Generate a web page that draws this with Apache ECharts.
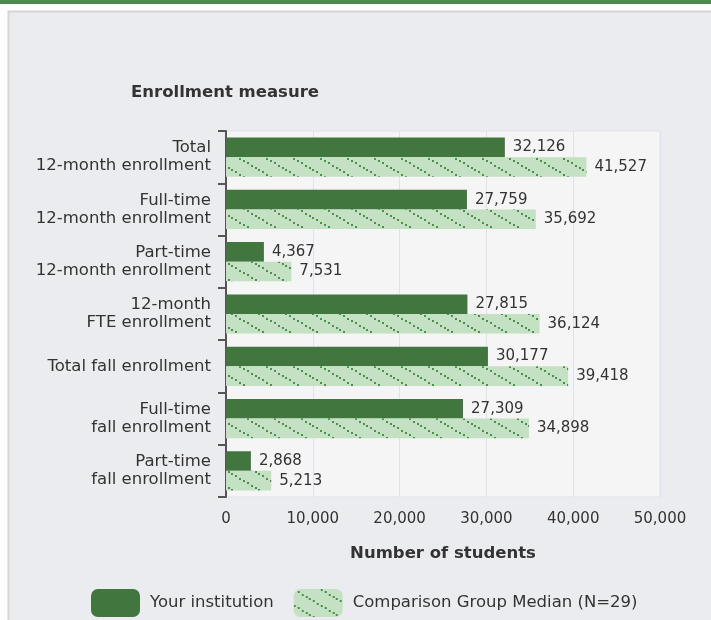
<!DOCTYPE html>
<html><head><meta charset="utf-8">
<script src="https://cdn.jsdelivr.net/npm/echarts@6/dist/echarts.min.js"></script>
<style>html,body{margin:0;padding:0;background:#fff}#c{width:711px;height:620px}</style>
</head><body><div id="c"></div>
<script>
var categories = ["Total\n12-month enrollment","Full-time\n12-month enrollment","Part-time\n12-month enrollment","12-month\nFTE enrollment","Total fall enrollment","Full-time\nfall enrollment","Part-time\nfall enrollment"];
var yourInstitution = [32126, 27759, 4367, 27815, 30177, 27309, 2868];
var comparisonMedian = [41527, 35692, 7531, 36124, 39418, 34898, 5213];
var xTicks = [0, 10000, 20000, 30000, 40000, 50000];

function makePattern(){
  var w = 27, h = 16;
  var c = document.createElement('canvas');
  c.width = w; c.height = h;
  var g = c.getContext('2d');
  g.fillStyle = '#c4e2c3'; g.fillRect(0,0,w,h);
  g.fillStyle = '#4f8f4e';
  for (var i = 0; i < 7; i++) {
    var x = i * w / 7, y = x * h / w;
    g.fillRect(Math.round(x), Math.round(y), 2, 2);
  }
  return c;
}
var pat = {image: makePattern(), repeat: 'repeat'};
var fmt = function(v){ return v.toLocaleString('en-US'); };
var font = '"DejaVu Sans", Verdana, sans-serif';

var chart = echarts.init(document.getElementById('c'), null, {renderer:'canvas'});
chart.setOption({
  backgroundColor: '#ffffff',
  animation: false,
  textStyle: {fontFamily: font},
  graphic: [
    {type:'rect', shape:{x:0,y:0,width:711,height:4}, style:{fill:'#4b8a4b'}, z:-10},
    {type:'rect', shape:{x:8.5,y:11.5,width:710,height:620}, style:{fill:'#ebecef', stroke:'#d5d5d5', lineWidth:2}, z:-10},
    {type:'text', left:131, top:84, style:{text:'Enrollment measure', fontSize:16.5, fontWeight:'bold', fill:'#333', fontFamily:font}}
  ],
  grid: {left:226, right:51, top:131, bottom:123, show:true, backgroundColor:'#f5f5f5', borderColor:'#dfe3ea', borderWidth:1},
  legend: {
    left: 86, top: 584, itemWidth: 49, itemHeight: 28, itemGap: 20, icon: 'roundRect',
    textStyle: {fontSize: 16.5, color:'#333', fontFamily:font, padding:[0,0,0,5]},
    data: ['Your institution', 'Comparison Group Median (N=29)']
  },
  xAxis: {
    type:'value', min: xTicks[0], max: xTicks[xTicks.length-1], interval: 10000,
    name: 'Number of students', nameLocation:'middle', nameGap: 48,
    nameTextStyle: {fontSize:16.5, fontWeight:'bold', color:'#333', fontFamily:font},
    axisLine: {show:false},
    axisTick: {show:false},
    axisLabel: {fontSize:15, color:'#333', margin:15, formatter: fmt},
    splitLine: {show:true, lineStyle:{color:'#dde3ee', width:1}}
  },
  yAxis: {
    type:'category', data: categories, inverse: true,
    axisLine: {show:true, lineStyle:{color:'#555', width:2}},
    axisTick: {show:true, length:8, lineStyle:{color:'#555', width:2}},
    axisLabel: {fontSize:16.5, color:'#333', margin:15, lineHeight:18, align:'right'}
  },
  series: [
    {name:'Your institution', type:'bar', data: yourInstitution, barGap:'0%', barCategoryGap:'25%',
     itemStyle:{color:'#41763f'},
     label:{show:true, position:'right', distance:8, fontSize:15, color:'#333', formatter: function(p){return fmt(p.value);}}},
    {name:'Comparison Group Median (N=29)', type:'bar', data: comparisonMedian,
     itemStyle:{color: pat},
     label:{show:true, position:'right', distance:8, fontSize:15, color:'#333', formatter: function(p){return fmt(p.value);}}}
  ]
});
</script>
</body></html>
